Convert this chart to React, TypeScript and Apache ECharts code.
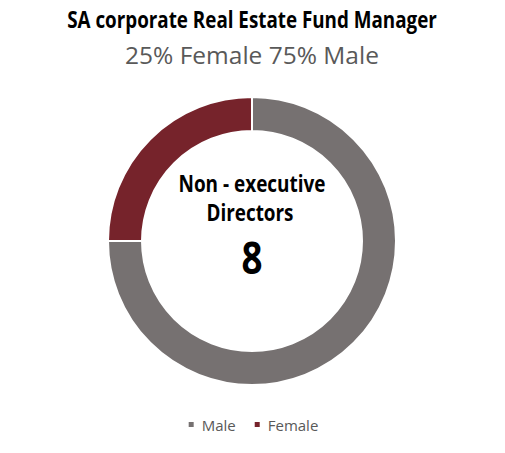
import React, { useEffect, useRef } from "react";
import * as echarts from "echarts";

const categories = ["Male", "Female"];
const values = [75, 25];
const colors = ["#767171", "#76232B"];
const titleText = "SA corporate Real Estate Fund Manager";
const subtitleText = "25% Female 75% Male";
const centerLine1 = "Non - executive";
const centerLine2 = "Directors";
const centerValue = "8";

function measure(text: string, font: string): number {
  const c = document.createElement("canvas");
  const ctx = c.getContext("2d");
  if (!ctx) return 1;
  ctx.font = font;
  return ctx.measureText(text).width || 1;
}

function condensedText(text: string, size: number, targetWidth: number, x: number, y: number) {
  const font = `bold ${size}px 'Open Sans'`;
  const w = measure(text, font);
  return {
    type: "text",
    x,
    y,
    scaleX: targetWidth / w,
    style: {
      text,
      font,
      fill: "#000000",
      align: "center",
      verticalAlign: "middle",
    },
  };
}

export default function App() {
  const ref = useRef<HTMLDivElement>(null);
  useEffect(() => {
    if (!ref.current) return;
    const chart = echarts.init(ref.current, null, { renderer: "svg" });
    chart.setOption({
      animation: false,
      backgroundColor: "#ffffff",
      legend: {
        bottom: 16,
        left: "center",
        itemWidth: 7,
        itemHeight: 7,
        itemGap: 17,
        icon: "rect",
        textStyle: { fontFamily: "Open Sans", fontSize: 15, color: "#595959", padding: [0, 0, 0, 2] },
        data: categories,
      },
      graphic: [
        condensedText(titleText, 23, 370, 252, 19),
        {
          type: "text",
          x: 252,
          y: 54,
          style: {
            text: subtitleText,
            font: "24.5px 'Open Sans'",
            fill: "#595959",
            align: "center",
            verticalAlign: "middle",
          },
        },
        condensedText(centerLine1, 23, 147, 252, 183),
        condensedText(centerLine2, 23, 87, 250, 212),
        condensedText(centerValue, 44, 21, 252, 257),
      ],
      series: [
        {
          type: "pie",
          center: [252, 241],
          radius: [110, 144],
          startAngle: 90,
          clockwise: true,
          label: { show: false },
          labelLine: { show: false },
          emphasis: { disabled: true },
          itemStyle: { borderColor: "#ffffff", borderWidth: 2 },
          data: categories.map((c, i) => ({
            name: c,
            value: values[i],
            itemStyle: { color: colors[i] },
          })),
        },
      ],
    });
    return () => chart.dispose();
  }, []);
  return <div ref={ref} style={{ width: 505, height: 453, margin: -8 }} />;
}
